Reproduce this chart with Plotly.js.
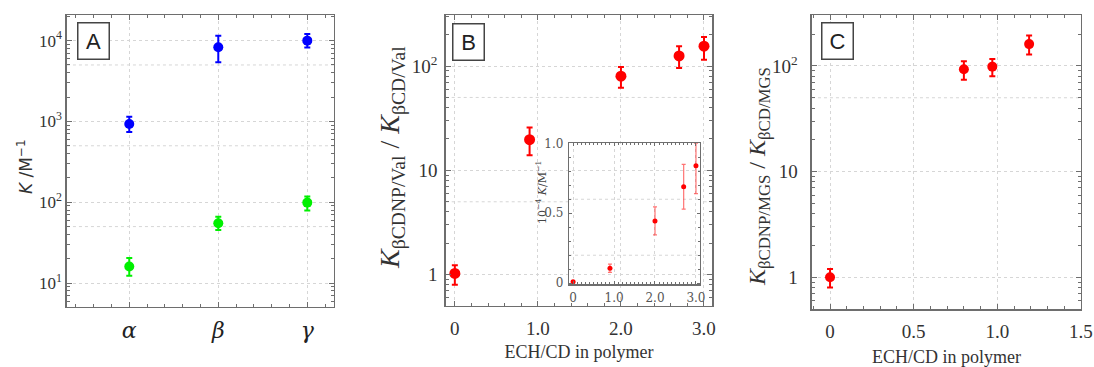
<!DOCTYPE html>
<html>
<head>
<meta charset="utf-8">
<script src="https://cdn.plot.ly/plotly-3.0.1.min.js"></script>
<style>html,body{margin:0;padding:0;background:#fff;}#chart{width:1094px;height:367px;}</style>
</head>
<body>
<div id="chart"></div>
<script>
// ---- Panel A data ----
const catPos = [1, 2, 3];
const catLabels = ['α', 'β', 'γ'];
const blueK = [930, 8300, 10000];
const blueErrPlus = [210, 3200, 2100];
const blueErrMinus = [190, 2900, 1800];
const greenK = [16, 55, 99];
const greenErrPlus = [4.5, 11, 19];
const greenErrMinus = [3.7, 9.5, 20];

// ---- Panel B data ----
const echB = [0, 0.9, 2.0, 2.7, 3.0];
const ratioB = [1.03, 19.7, 80, 125, 155];
const ratioBPlus = [0.2, 6, 18, 30, 35];
const ratioBMinus = [0.23, 5.7, 18, 29, 40];
// inset (10^-4 K / M^-1)
const insetK = [0.01, 0.107, 0.445, 0.69, 0.84];
const insetPlus = [0, 0.03, 0.1, 0.16, 0.16];
const insetMinus = [0, 0.03, 0.1, 0.16, 0.2];

// ---- Panel C data ----
const echC = [0, 0.8, 0.97, 1.19];
const ratioC = [1.0, 93, 98.5, 161];
const ratioCPlus = [0.2, 18, 18, 33];
const ratioCMinus = [0.2, 19, 18.5, 33];

// tick labels
const ticksA = [10, 100, 1000, 10000];
const ticksAText = ['10<sup>1</sup>', '10<sup>2</sup>', '10<sup>3</sup>', '10<sup>4</sup>'];
const ticksB = [1, 10, 100];
const ticksBText = ['1', '10', '10<sup>2</sup>'];
const xTicksB = [0, 1, 2, 3];
const xTicksBText = ['0', '1.0', '2.0', '3.0'];
const xTicksC = [0, 0.5, 1, 1.5];
const xTicksCText = ['0', '0.5', '1.0', '1.5'];
const yTicksInset = [0, 0.5, 1];
const yTicksInsetText = ['0', '0.5', '1.0'];

const SERIF = 'Liberation Serif, DejaVu Serif, serif';
const FRAME = '#6e6e6e';
const GRID = '#d6d6d6';

function minorLog(lo, hi) {
  const v = [];
  for (let d = lo; d <= hi; d++) for (let m = 2; m <= 9; m++) v.push(m * Math.pow(10, d));
  return v;
}
function hGrid(xa, ya, vals) {
  return vals.map(v => ({type: 'line', xref: xa + ' domain', yref: ya, x0: 0, x1: 1, y0: v, y1: v,
    line: {color: GRID, width: 1, dash: 'dot'}, layer: 'below'}));
}

function marker(color, size) { return {color: color, size: size}; }
function errs(plus, minus, color, thick, w) {
  return {type: 'data', symmetric: false, array: plus, arrayminus: minus, color: color, thickness: thick, width: w};
}

const traces = [
  {x: catPos, y: blueK, xaxis: 'x', yaxis: 'y', mode: 'markers', type: 'scatter',
   marker: marker('#0000ff', 10), error_y: errs(blueErrPlus, blueErrMinus, '#0000ff', 2, 3), name: 'blue'},
  {x: catPos, y: greenK, xaxis: 'x', yaxis: 'y', mode: 'markers', type: 'scatter',
   marker: marker('#00f000', 10), error_y: errs(greenErrPlus, greenErrMinus, '#00f000', 2, 3), name: 'green'},
  {x: echB, y: ratioB, xaxis: 'x2', yaxis: 'y2', mode: 'markers', type: 'scatter',
   marker: marker('#ff0000', 11), error_y: errs(ratioBPlus, ratioBMinus, '#ff0000', 2, 3), name: 'B'},
  {x: echB, y: insetK, xaxis: 'x4', yaxis: 'y4', mode: 'markers', type: 'scatter',
   marker: marker('#ff0000', 5), error_y: errs(insetPlus, insetMinus, 'rgba(255,40,40,0.65)', 1.2, 2), name: 'inset'},
  {x: echC, y: ratioC, xaxis: 'x3', yaxis: 'y3', mode: 'markers', type: 'scatter',
   marker: marker('#ff0000', 10), error_y: errs(ratioCPlus, ratioCMinus, '#ff0000', 2, 3), name: 'C'}
];

const frame = {showline: true, mirror: 'allticks', linecolor: FRAME, linewidth: 1.5,
  ticks: 'inside', ticklen: 5, tickcolor: FRAME, tickwidth: 1, zeroline: false,
  showgrid: true, gridcolor: GRID, griddash: 'dot', gridwidth: 1, fixedrange: true};

function ax(extra) { return Object.assign({}, frame, extra); }

const labelBox = {xref: 'paper', yref: 'paper', xanchor: 'center', yanchor: 'middle', showarrow: false,
  font: {family: 'Liberation Sans, Arial, sans-serif', size: 22, color: '#222'}, bordercolor: '#444', borderwidth: 1.5,
  width: 28, height: 33, bgcolor: '#fff'};
const vTitle = {xref: 'paper', yref: 'paper', xanchor: 'center', yanchor: 'middle', textangle: -90, showarrow: false};

const layout = {
  width: 1094, height: 367,
  margin: {l: 0, r: 0, t: 0, b: 0},
  paper_bgcolor: '#fff', plot_bgcolor: 'rgba(0,0,0,0)',
  showlegend: false,
  font: {family: SERIF, color: '#333', size: 18},
  // Panel A
  xaxis: ax({domain: [0.0612, 0.3053], anchor: 'y', range: [0.3, 3.3],
    tickmode: 'array', tickvals: catPos, ticktext: catLabels, ticklabelstandoff: 3,
    tickfont: {family: 'DejaVu Serif, serif', size: 22, color: '#222', style: 'italic'},
    minor: {dtick: 0.2, ticks: 'inside', ticklen: 3, tickcolor: FRAME, showgrid: false}}),
  yaxis: ax({domain: [0.1635, 0.9591], anchor: 'x', type: 'log', range: [0.704, 4.317],
    tickmode: 'array', tickvals: ticksA, ticktext: ticksAText,
    tickfont: {family: SERIF, size: 17, color: '#333'}, ticklabelstandoff: 0,
    minor: {tickvals: minorLog(0, 4), ticks: 'inside', ticklen: 3, tickcolor: FRAME, showgrid: false}}),
  // Panel B
  xaxis2: ax({domain: [0.4074, 0.6511], anchor: 'y2', range: [-0.11, 3.1],
    tickmode: 'array', tickvals: xTicksB, ticktext: xTicksBText, ticklabelstandoff: 5,
    tickfont: {family: SERIF, size: 19, color: '#333'},
    minor: {dtick: 0.2, ticks: 'inside', ticklen: 3, tickcolor: FRAME, showgrid: false},
    title: {text: 'ECH/CD in polymer', font: {family: SERIF, size: 18, color: '#333'}, standoff: 7}}),
  yaxis2: ax({domain: [0.1670, 0.9591], anchor: 'x2', type: 'log', range: [-0.297, 2.489],
    tickmode: 'array', tickvals: ticksB, ticktext: ticksBText,
    tickfont: {family: SERIF, size: 19, color: '#333'}, ticklabelstandoff: 3,
    minor: {tickvals: minorLog(-1, 2), ticks: 'inside', ticklen: 3, tickcolor: FRAME, showgrid: false}}),
  // Panel C
  xaxis3: ax({domain: [0.7422, 0.9881], anchor: 'y3', range: [-0.108, 1.5],
    tickmode: 'array', tickvals: xTicksC, ticktext: xTicksCText, ticklabelstandoff: 4,
    tickfont: {family: SERIF, size: 19, color: '#333'},
    minor: {dtick: 0.1, ticks: 'inside', ticklen: 3, tickcolor: FRAME, showgrid: false},
    title: {text: 'ECH/CD in polymer', font: {family: SERIF, size: 18, color: '#333'}, standoff: 13}}),
  yaxis3: ax({domain: [0.1572, 0.9591], anchor: 'x3', type: 'log', range: [-0.303, 2.482],
    tickmode: 'array', tickvals: ticksB, ticktext: ticksBText,
    tickfont: {family: SERIF, size: 19, color: '#333'}, ticklabelstandoff: 9,
    minor: {tickvals: minorLog(-1, 2), ticks: 'inside', ticklen: 3, tickcolor: FRAME, showgrid: false}}),
  // Inset in B
  xaxis4: ax({domain: [0.5201, 0.6399], anchor: 'y4', range: [-0.1, 3.1], linewidth: 1.2, ticklen: 3,
    tickmode: 'array', tickvals: xTicksB, ticktext: xTicksBText, ticklabelstandoff: 2,
    tickfont: {family: 'DejaVu Serif, serif', size: 12, color: '#555'},
    minor: {dtick: 0.1, ticks: 'inside', ticklen: 2, tickcolor: FRAME, showgrid: false}}),
  yaxis4: ax({domain: [0.2253, 0.6095], anchor: 'x4', range: [-0.008, 1.0], linewidth: 1.2, ticklen: 3, showgrid: false,
    tickmode: 'array', tickvals: yTicksInset, ticktext: yTicksInsetText, ticklabelstandoff: 2,
    tickfont: {family: 'DejaVu Serif, serif', size: 12, color: '#555'},
    minor: {tickvals: [0.1, 0.2, 0.3, 0.4, 0.6, 0.7, 0.8, 0.9], ticks: 'inside', ticklen: 2, tickcolor: FRAME, showgrid: false}}),
  shapes: [].concat(
    hGrid('x', 'y', [50, 500, 5000]),
    hGrid('x2', 'y2', [5, 50]),
    hGrid('x3', 'y3', [50]),
    [{type: 'rect', xref: 'x4 domain', yref: 'y4 domain', x0: 0, x1: 1, y0: 0, y1: 1, fillcolor: '#fff', line: {width: 0}, layer: 'below'}],
    hGrid('x4', 'y4', [0.2, 0.6])
  ),
  annotations: [
    Object.assign({text: 'A', x: 93 / 1094, y: 1 - 40.5 / 367}, labelBox),
    Object.assign({text: 'B', x: 468.7 / 1094, y: 1 - 42.3 / 367}, labelBox),
    Object.assign({text: 'C', x: 837.7 / 1094, y: 1 - 41.3 / 367}, labelBox),
    Object.assign({text: '<i>K</i> /M<sup>−1</sup>', x: 25 / 1094, y: 1 - 167 / 367,
      font: {family: 'DejaVu Sans, sans-serif', size: 17, color: '#333'}}, vTitle),
    Object.assign({text: '<i>K</i><sub>βCDNP/Val</sub> / <i>K</i><sub>βCD/Val</sub>', x: 392 / 1094, y: 1 - 158 / 367,
      font: {family: SERIF, size: 28, color: '#333'}}, vTitle),
    Object.assign({text: '<i>K</i><sub>βCDNP/MGS</sub> / <i>K</i><sub>βCD/MGS</sub>', x: 759 / 1094, y: 1 - 177 / 367,
      font: {family: SERIF, size: 24, color: '#333'}}, vTitle),
    Object.assign({text: '10<sup>−4</sup> <i>K</i>/M<sup>−1</sup>', x: 541 / 1094, y: 1 - 193 / 367,
      font: {family: 'DejaVu Serif, serif', size: 11, color: '#444'}}, vTitle)
  ]
};

Plotly.newPlot('chart', traces, layout, {displayModeBar: false, staticPlot: true});
</script>
</body>
</html>
